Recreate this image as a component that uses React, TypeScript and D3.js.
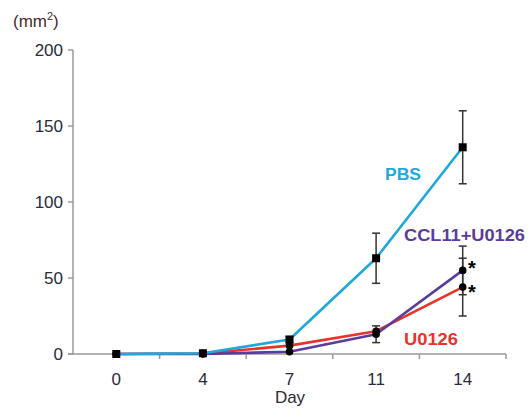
import React from "react";
import * as d3 from "d3";

const days = ["0", "4", "7", "11", "14"];
const yTicks = [0, 50, 100, 150, 200];
const pbs = [0, 0.5, 9.5, 63, 136];
const pbsErr = [0, 0, 2, 16.5, 24];
const u0126 = [0, 0.3, 5.5, 15, 44];
const u0126Err = [0, 0, 0, 0, 19];
const ccl = [0, 0, 1.5, 13, 55];
const cclErr = [0, 0, 0, 5.5, 16];

const W = 531, H = 412;
const x = d3.scaleBand<string>().domain(days).range([73, 506]).padding(0);
const y = d3.scaleLinear().domain([0, 200]).range([354, 50]);
const cx = (d: string) => (x(d) as number) + x.bandwidth() / 2;

const lineGen = d3
  .line<number>()
  .x((_, i) => cx(days[i]))
  .y((v) => y(v))
  .curve(d3.curveLinear);

const series = [
  { name: "U0126", vals: u0126, err: u0126Err, color: "#e8322c", marker: "circle" },
  { name: "CCL11+U0126", vals: ccl, err: cclErr, color: "#5a3c9e", marker: "circle" },
  { name: "PBS", vals: pbs, err: pbsErr, color: "#1ea8dc", marker: "square" },
];

export default function App() {
  const font = "Liberation Sans, Arial, sans-serif";
  return (
    <svg width={W} height={H} style={{ position: "absolute", left: 0, top: 0, background: "#fff" }}>
      {/* axes */}
      <line x1={73} x2={73} y1={y(200)} y2={y(0)} stroke="#9a9a9a" strokeWidth={1.5} />
      <line x1={68} x2={506} y1={y(0)} y2={y(0)} stroke="#9a9a9a" strokeWidth={1.5} />
      {yTicks.map((t) => (
        <g key={t}>
          <line x1={68} x2={73} y1={y(t)} y2={y(t)} stroke="#9a9a9a" strokeWidth={1.5} />
          <text x={63} y={y(t)} dy="0.35em" textAnchor="end" fontFamily={font} fontSize={17} fill="#2a2a3a">
            {t}
          </text>
        </g>
      ))}
      {days.map((d) => (
        <g key={d}>
          <line
            x1={(x(d) as number) + x.bandwidth()}
            x2={(x(d) as number) + x.bandwidth()}
            y1={y(0)}
            y2={y(0) + 5}
            stroke="#9a9a9a"
            strokeWidth={1.5}
          />
          <text x={cx(d)} y={385} textAnchor="middle" fontFamily={font} fontSize={17} fill="#2a2a3a">
            {d}
          </text>
        </g>
      ))}
      <text x={290} y={403} textAnchor="middle" fontFamily={font} fontSize={17} fill="#2a2a3a">
        Day
      </text>
      <text x={13} y={27} fontFamily={font} fontSize={17} fill="#4a2a2a">
        (mm<tspan dy={-7} fontSize={11}>2</tspan>
        <tspan dy={7}>)</tspan>
      </text>

      {/* lines */}
      {series.map((s) => (
        <path key={s.name} d={lineGen(s.vals) || ""} fill="none" stroke={s.color} strokeWidth={2.6} strokeLinejoin="round" />
      ))}

      {/* error bars */}
      {series.map((s) =>
        s.vals.map((v, i) =>
          s.err[i] > 0 ? (
            <g key={s.name + i} stroke="#333" strokeWidth={1.5}>
              <line x1={cx(days[i])} x2={cx(days[i])} y1={y(v + s.err[i])} y2={y(v - s.err[i])} />
              <line x1={cx(days[i]) - 4} x2={cx(days[i]) + 4} y1={y(v + s.err[i])} y2={y(v + s.err[i])} />
              <line x1={cx(days[i]) - 4} x2={cx(days[i]) + 4} y1={y(v - s.err[i])} y2={y(v - s.err[i])} />
            </g>
          ) : null
        )
      )}

      {/* markers */}
      {series.map((s) =>
        s.vals.map((v, i) =>
          s.marker === "square" ? (
            <rect key={s.name + "m" + i} x={cx(days[i]) - 4} y={y(v) - 4} width={8} height={8} fill="#000" />
          ) : (
            <circle key={s.name + "m" + i} cx={cx(days[i])} cy={y(v)} r={3.8} fill="#000" />
          )
        )
      )}

      {/* significance */}
      <text x={472} y={275} textAnchor="middle" fontFamily={font} fontSize={20} fontWeight="bold" fill="#000">*</text>
      <text x={472} y={299} textAnchor="middle" fontFamily={font} fontSize={20} fontWeight="bold" fill="#000">*</text>

      {/* labels */}
      <text x={385} y={180} fontFamily={font} fontSize={16} fontWeight="bold" fill="#1ea8dc" textLength={36} lengthAdjust="spacingAndGlyphs">
        PBS
      </text>
      <text x={404} y={241} fontFamily={font} fontSize={16} fontWeight="bold" fill="#5a3c9e" textLength={121} lengthAdjust="spacingAndGlyphs">
        CCL11+U0126
      </text>
      <text x={404} y={345} fontFamily={font} fontSize={16} fontWeight="bold" fill="#e8322c" textLength={54} lengthAdjust="spacingAndGlyphs">
        U0126
      </text>
    </svg>
  );
}
